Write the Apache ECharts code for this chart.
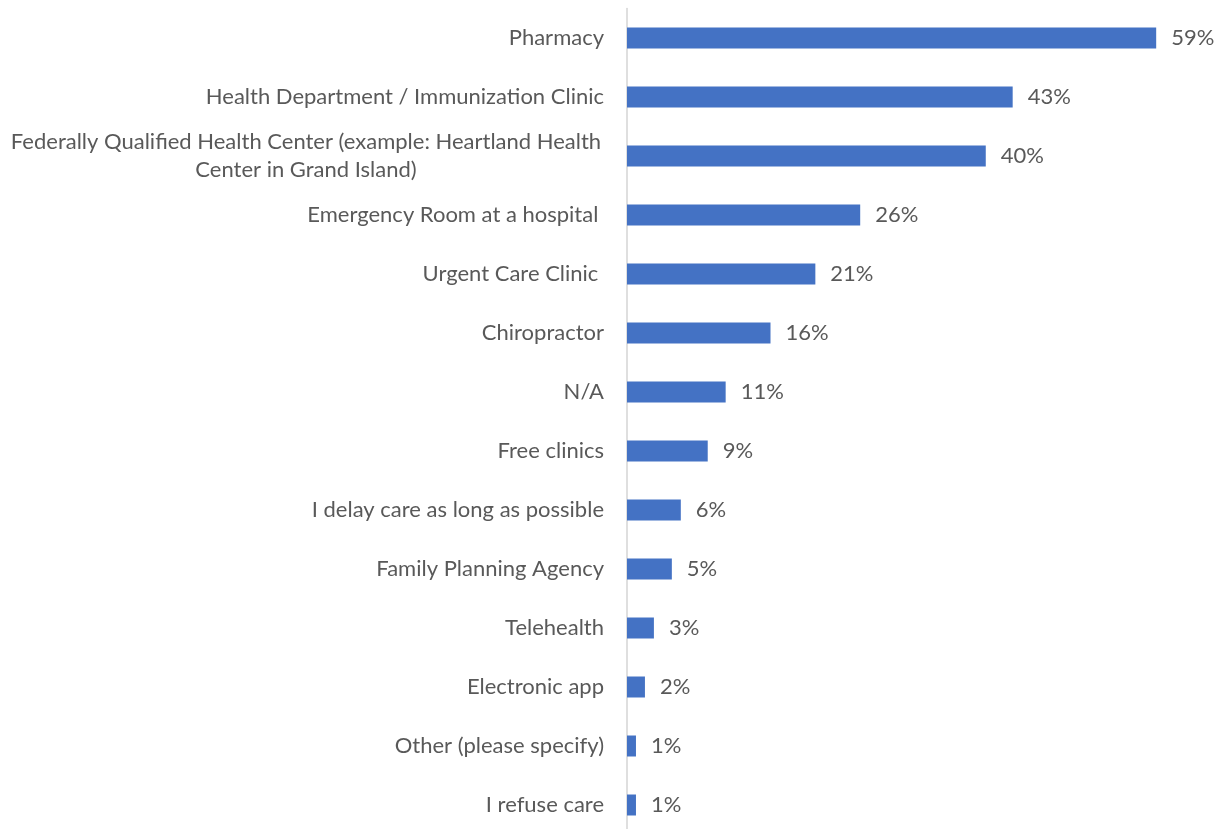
<!DOCTYPE html>
<html>
<head>
<meta charset="utf-8">
<script src="https://cdn.jsdelivr.net/npm/echarts@6/dist/echarts.min.js"></script>
<style>
  html, body { margin: 0; padding: 0; background: #ffffff; overflow: hidden; }
  #chart { width: 1225px; height: 836px; }
</style>
</head>
<body>
<div id="chart"></div>
<script>
// Where respondents go for care (share of responses, %)
const categories = [
  'Pharmacy',
  'Health Department / Immunization Clinic',
  'Federally Qualified Health Center (example: Heartland Health\nCenter in Grand Island)',
  'Emergency Room at a hospital ',
  'Urgent Care Clinic ',
  'Chiropractor',
  'N/A',
  'Free clinics',
  'I delay care as long as possible',
  'Family Planning Agency',
  'Telehealth',
  'Electronic app',
  'Other (please specify)',
  'I refuse care'
];
const shares = [59, 43, 40, 26, 21, 16, 11, 9, 6, 5, 3, 2, 1, 1];

const textColor = '#595959';
const fontFamily = 'Lato, "Liberation Sans", sans-serif';
const fontSize = 22;

const chart = echarts.init(document.getElementById('chart'), null, { renderer: 'canvas' });

chart.setOption({
  animation: false,
  backgroundColor: '#ffffff',
  grid: { left: 627, width: 583, top: 8.5, height: 826, containLabel: false },
  xAxis: {
    type: 'value',
    min: 0,
    max: 65,
    show: false
  },
  yAxis: {
    type: 'category',
    inverse: true,
    data: categories,
    axisLine: { show: true, lineStyle: { color: '#d4d4d4', width: 1.5 } },
    axisTick: { show: false },
    splitLine: { show: false },
    axisLabel: {
      margin: 23,
      color: textColor,
      fontFamily: fontFamily,
      fontSize: fontSize,
      lineHeight: 28,
      formatter: function (v) {
        if (v.indexOf('\n') >= 0) {
          return v.split('\n').map(function (s) { return '{c|' + s + '}'; }).join('\n');
        }
        return v;
      },
      rich: {
        c: {
          width: 596,
          align: 'center',
          color: textColor,
          fontFamily: fontFamily,
          fontSize: fontSize,
          lineHeight: 28
        }
      }
    }
  },
  series: [{
    type: 'bar',
    data: shares,
    barWidth: 21,
    itemStyle: { color: '#4472C4' },
    label: {
      show: true,
      position: 'right',
      distance: 15,
      color: textColor,
      fontFamily: fontFamily,
      fontSize: fontSize,
      formatter: '{c}%'
    }
  }]
});
</script>
</body>
</html>
